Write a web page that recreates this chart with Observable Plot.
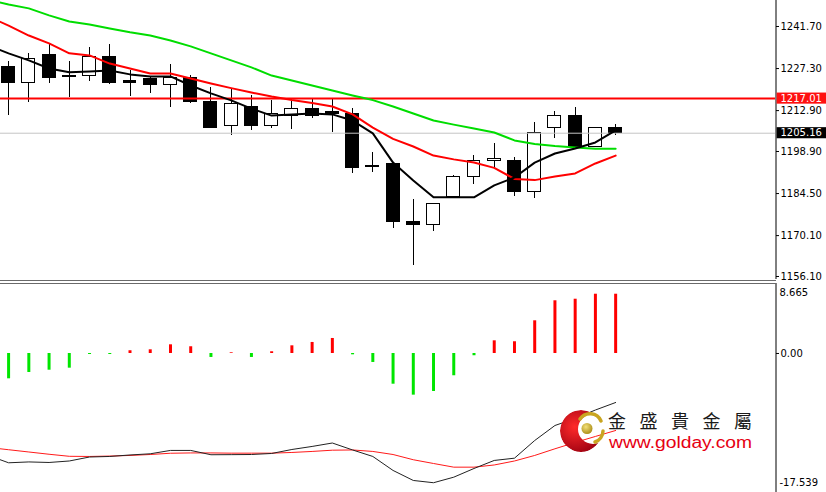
<!DOCTYPE html>
<html>
<head>
<meta charset="utf-8">
<script src="https://cdn.jsdelivr.net/npm/d3@7"></script>
<script src="https://cdn.jsdelivr.net/npm/@observablehq/plot@0.6"></script>
<style>
html,body{margin:0;padding:0;background:#fff;}
#wrap{position:relative;width:826px;height:492px;overflow:hidden;background:#fff;}
#top,#bottom{position:absolute;left:0;}
#top{top:0;}
#bottom{top:283px;}
.sep{position:absolute;left:0;width:776px;height:1px;background:#6a6a6a;}
</style>
</head>
<body>
<div id="wrap">
  <div id="top"></div>
  <div id="bottom"></div>
  <div class="sep" style="top:280px"></div>
  <div class="sep" style="top:283px"></div>
</div>
<script>
// ---------- data ----------
const open  = [1227.7,1222.5,1232.1,1224.6,1224.6,1231.4,1223.2,1223.6,1221.5,1224.2,1215.7,1207.5,1214.0,1207.5,1211.2,1213.6,1212.4,1211.9,1193.8,1194.5,1174.9,1173.6,1183.2,1190.3,1195.5,1195.8,1184.9,1206.8,1210.9,1200.6,1206.8];
const high  = [1229.7,1232.5,1235.9,1229.7,1234.5,1235.5,1226.6,1224.6,1228.7,1224.9,1220.8,1220.5,1218.1,1216.4,1216.0,1216.9,1217.1,1213.6,1198.6,1194.8,1182.5,1180.9,1190.7,1197.5,1201.6,1196.9,1208.7,1212.6,1214.0,1207.1,1208.1];
const low   = [1211.2,1215.7,1222.2,1217.4,1222.9,1221.8,1217.7,1218.8,1214.0,1215.5,1206.8,1204.4,1206.1,1206.8,1206.6,1210.2,1205.4,1191.4,1191.7,1172.5,1159.7,1171.5,1183.2,1187.6,1192.7,1183.5,1182.8,1203.4,1200.4,1200.3,1204.4];
const close = [1222.5,1230.4,1224.2,1224.5,1231.1,1222.2,1222.5,1221.5,1223.9,1215.7,1207.1,1215.3,1207.5,1211.6,1213.6,1211.2,1211.6,1193.1,1193.6,1174.6,1173.9,1180.8,1190.3,1195.8,1196.2,1184.9,1205.4,1210.9,1200.6,1206.8,1205.16];

// moving averages (first value belongs to the bar just left of the window)
const maFast = [1235.2,1232.5,1230.1,1227.3,1226.0,1226.3,1226.6,1225.3,1224.6,1224.6,1221.5,1218.8,1216.4,1213.6,1211.2,1211.6,1211.9,1211.6,1209.5,1205.1,1195.1,1189.0,1183.2,1183.2,1183.2,1187.3,1190.0,1195.1,1198.2,1199.9,1202.0,1206.1];
const maMid  = [1245.1,1242.0,1238.6,1235.9,1232.5,1231.8,1229.0,1227.3,1225.6,1225.6,1223.9,1222.2,1220.6,1219.1,1217.7,1216.5,1215.5,1214.3,1211.6,1207.1,1203.2,1200.6,1197.5,1196.2,1195.1,1193.3,1189.5,1189.1,1190.3,1191.4,1194.8,1197.5];
const maSlow = [1250.9,1249.2,1247.9,1245.5,1243.4,1242.4,1241.0,1239.7,1238.6,1236.9,1234.9,1232.5,1230.1,1227.7,1224.9,1223.2,1221.5,1219.8,1218.1,1216.5,1214.3,1211.9,1209.5,1208.1,1206.8,1205.4,1202.7,1201.5,1200.8,1200.3,1199.8,1199.8];

const resistance = 1217.01;
const lastPrice = 1205.16;
const topTicks = [1241.70,1227.30,1212.90,1198.90,1184.50,1170.10,1156.10];

// lower indicator panel
const macdHist = [-3.24,-2.43,-2.14,-1.88,-0.13,-0.13,0.35,0.47,1.11,0.86,-0.51,0.09,-0.51,0.22,0.98,1.41,1.92,-0.17,-1.15,-3.93,-5.33,-4.86,-2.85,-0.29,1.62,1.50,4.18,6.74,6.94,7.58,7.58];
const lineMain   = [-13.04,-13.98,-13.87,-13.94,-13.75,-13.24,-13.17,-12.98,-12.83,-12.40,-12.40,-12.95,-12.94,-12.92,-12.79,-12.28,-11.89,-11.45,-12.34,-13.17,-14.96,-16.24,-16.53,-15.82,-14.71,-13.68,-13.39,-11.13,-9.21,-8.31,-7.23,-6.27];
const lineSignal = [-12.02,-12.31,-12.60,-12.89,-13.15,-13.17,-13.12,-13.04,-12.92,-12.76,-12.72,-12.72,-12.75,-12.75,-12.75,-12.66,-12.53,-12.37,-12.34,-12.53,-12.92,-13.59,-14.07,-14.54,-14.54,-14.26,-13.75,-13.04,-12.19,-11.38,-10.61,-9.85];
const lowerMaxLabel = "8.665";
const lowerZeroTicks = [0];
const lowerMinLabel = "-17.539";

// ---------- layout ----------
const X0 = 0.6, BAR_PX = 20.235, PLOT_W = 775;
const xDomain = [X0, X0 + PLOT_W / BAR_PX];
const xEnd = xDomain[1];

const candles = open.map((o, k) => ({i: k + 1, open: o, high: high[k], low: low[k], close: close[k]}));
const toSeries = arr => arr.map((v, k) => ({i: k, v}));
const priceTags = [{v: resistance, bg: "#ff1010"}, {v: lastPrice, bg: "#000000"}];

const baseStyle = {background: "transparent", fontFamily: "'DejaVu Sans', sans-serif", fontSize: "10px", color: "#000", overflow: "visible"};

const topPlot = Plot.plot({
  width: 826, height: 281,
  marginLeft: 0, marginRight: 51, marginTop: 0, marginBottom: 2,
  x: {type: "linear", domain: xDomain, axis: null},
  y: {domain: [1155.07, 1250.6], axis: null},
  color: {type: "identity"},
  style: baseStyle,
  marks: [
    Plot.ruleX(candles, {x: "i", y1: "low", y2: "high", stroke: "#000", strokeWidth: 1, shapeRendering: "crispEdges"}),
    Plot.rect(candles, {x1: d => d.i - 0.32, x2: d => d.i + 0.32, y1: "open", y2: "close",
      fill: d => d.close < d.open ? "#000" : "#fff", stroke: "#000", strokeWidth: 1, shapeRendering: "crispEdges"}),
    Plot.ruleY([lastPrice], {stroke: "#c4c4c4", strokeWidth: 1}),
    Plot.ruleY([resistance], {stroke: "#ff0000", strokeWidth: 2}),
    Plot.line(toSeries(maSlow), {x: "i", y: "v", stroke: "#00dd00", strokeWidth: 2, clip: true}),
    Plot.line(toSeries(maMid), {x: "i", y: "v", stroke: "#ff0000", strokeWidth: 2, clip: true}),
    Plot.line(toSeries(maFast), {x: "i", y: "v", stroke: "#000", strokeWidth: 2, clip: true}),
    Plot.ruleX([xEnd], {stroke: "#000", strokeWidth: 1, dx: 0.5}),
    Plot.axisY(topTicks, {anchor: "right", tickSize: 3, tickPadding: 2, tickFormat: d => d.toFixed(2), label: null}),
    Plot.rect(priceTags, {x1: xEnd + 0.08, x2: xEnd + 2.6, y1: d => d.v - 1.9, y2: d => d.v + 1.9, fill: d => d.bg}),
    Plot.text(priceTags, {x: xEnd, y: "v", text: d => d.v.toFixed(2), dx: 5, textAnchor: "start", fill: "#fff"})
  ]
});
document.getElementById("top").appendChild(topPlot);

const lowPlot = Plot.plot({
  width: 826, height: 209,
  marginLeft: 0, marginRight: 51, marginTop: 0, marginBottom: 0,
  x: {type: "linear", domain: xDomain, axis: null},
  y: {domain: [-17.78, 8.95], axis: null},
  color: {type: "identity"},
  style: baseStyle,
  marks: [
    Plot.ruleX(macdHist.map((v, k) => ({i: k + 1, v})), {x: "i", y1: 0, y2: "v",
      stroke: d => d.v >= 0 ? "#ff0000" : "#00e600", strokeWidth: 3}),
    Plot.line(toSeries(lineSignal), {x: "i", y: "v", stroke: "#ff1a1a", strokeWidth: 1, clip: true}),
    Plot.line(toSeries(lineMain), {x: "i", y: "v", stroke: "#222", strokeWidth: 1, clip: true}),
    Plot.ruleX([xEnd], {stroke: "#000", strokeWidth: 1, dx: 0.5}),
    Plot.axisY(lowerZeroTicks, {anchor: "right", tickSize: 3, tickPadding: 2, tickFormat: d => d.toFixed(2), label: null}),
    Plot.text([lowerMaxLabel], {frameAnchor: "top-right", text: d => d, dx: 4, dy: 9, textAnchor: "start", lineAnchor: "middle"}),
    Plot.text([lowerMinLabel], {frameAnchor: "bottom-right", text: d => d, dx: 4, dy: -10, textAnchor: "start", lineAnchor: "middle"})
  ]
});
document.getElementById("bottom").appendChild(lowPlot);

// ---------- watermark logo ----------
const logo = d3.select("#wrap").append("svg")
  .attr("width", 826).attr("height", 492)
  .style("position", "absolute").style("left", "0px").style("top", "0px").style("pointer-events", "none");
const defs = logo.append("defs");
const rg = defs.append("radialGradient").attr("id", "redg").attr("cx", "35%").attr("cy", "40%").attr("r", "70%");
rg.append("stop").attr("offset", "0%").attr("stop-color", "#ff2a2a");
rg.append("stop").attr("offset", "100%").attr("stop-color", "#9a0010");
const gg = defs.append("radialGradient").attr("id", "goldg").attr("cx", "40%").attr("cy", "35%").attr("r", "70%");
gg.append("stop").attr("offset", "0%").attr("stop-color", "#f3e07a");
gg.append("stop").attr("offset", "100%").attr("stop-color", "#a88a12");
const mask = defs.append("mask").attr("id", "cres");
mask.append("rect").attr("x", 0).attr("y", 0).attr("width", 826).attr("height", 492).attr("fill", "black");
mask.append("circle").attr("cx", 581).attr("cy", 431).attr("r", 21).attr("fill", "white");
mask.append("circle").attr("cx", 593).attr("cy", 429).attr("r", 15).attr("fill", "black");
logo.append("circle").attr("cx", 581).attr("cy", 431).attr("r", 21).attr("fill", "url(#redg)").attr("mask", "url(#cres)");
logo.append("path").attr("d", "M 580 419 A 12 12 0 0 1 601 421").attr("fill", "none").attr("stroke", "#c9a520").attr("stroke-width", 3.5).attr("stroke-linecap", "round");
logo.append("path").attr("d", "M 603 431 A 12 12 0 0 1 595 442").attr("fill", "none").attr("stroke", "#c9a520").attr("stroke-width", 3.5).attr("stroke-linecap", "round");
logo.append("circle").attr("cx", 587).attr("cy", 428.5).attr("r", 5.5).attr("fill", "url(#goldg)");
logo.append("text").attr("x", 608).attr("y", 428)
  .attr("font-family", "'Noto Sans CJK TC', 'Noto Sans CJK SC', sans-serif").attr("font-size", 18)
  .attr("fill", "#1a1a1a").attr("textLength", 144).attr("lengthAdjust", "spacing").text("金盛貴金屬");
logo.append("text").attr("x", 609).attr("y", 448)
  .attr("font-family", "'Liberation Sans', Arial, sans-serif").attr("font-size", 16)
  .attr("fill", "#e60012").attr("textLength", 143).attr("lengthAdjust", "spacingAndGlyphs").text("www.golday.com");
</script>
</body>
</html>
